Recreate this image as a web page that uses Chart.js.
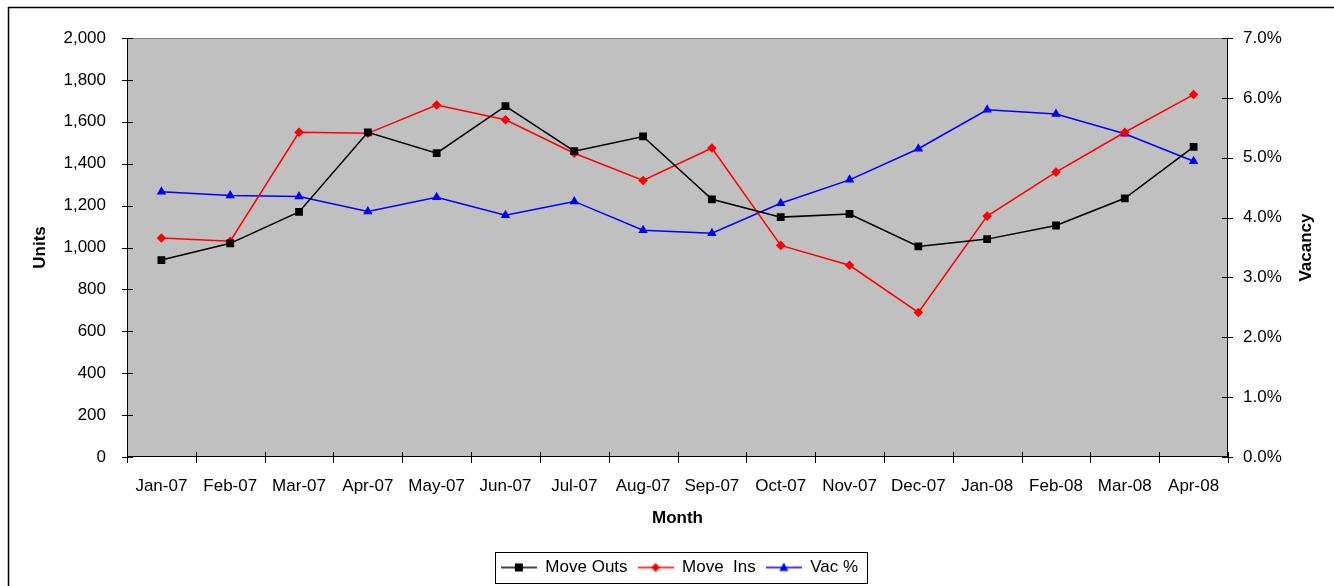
<!DOCTYPE html>
<html>
<head>
<meta charset="utf-8">
<script src="https://cdn.jsdelivr.net/npm/chart.js@4/dist/chart.umd.min.js"></script>
<style>
  html, body { margin: 0; padding: 0; background: #ffffff; }
  #wrap { width: 1334px; height: 586px; }
</style>
</head>
<body>
<div id="wrap"><canvas id="c" width="1334" height="586"></canvas></div>
<script>
// Monthly move-outs, move-ins (units) and vacancy rate (%)
const months = ['Jan-07','Feb-07','Mar-07','Apr-07','May-07','Jun-07','Jul-07','Aug-07',
                'Sep-07','Oct-07','Nov-07','Dec-07','Jan-08','Feb-08','Mar-08','Apr-08'];
const moveOuts = [940, 1020, 1170, 1550, 1450, 1675, 1460, 1530, 1230, 1145, 1160, 1005, 1040, 1105, 1235, 1480];
const moveIns  = [1045, 1030, 1550, 1545, 1680, 1610, 1450, 1320, 1475, 1010, 915, 690, 1150, 1360, 1550, 1730];
const vacancyPct = [4.43, 4.37, 4.35, 4.10, 4.34, 4.04, 4.27, 3.79, 3.74, 4.24, 4.63, 5.15, 5.80, 5.73, 5.40, 4.94];

const seriesNames = ['Move Outs', 'Move  Ins', 'Vac %'];
const axisTitles = { units: 'Units', vacancy: 'Vacancy', month: 'Month' };

const FONT = '"Liberation Sans", Arial, sans-serif';
const FS = 17;
Chart.defaults.font.family = FONT;
Chart.defaults.font.size = FS;
Chart.defaults.color = '#000000';

// Small legend swatch: a line segment with the series marker in the middle
function swatch(color, shape) {
  const cv = document.createElement('canvas');
  cv.width = 36; cv.height = 12;
  const g = cv.getContext('2d');
  g.strokeStyle = color; g.lineWidth = 1.5;
  g.beginPath(); g.moveTo(0, 6); g.lineTo(36, 6); g.stroke();
  g.fillStyle = color;
  g.beginPath();
  if (shape === 'rect') { g.rect(14, 2, 8, 8); }
  else if (shape === 'rectRot') { g.moveTo(18, 1.5); g.lineTo(22.5, 6); g.lineTo(18, 10.5); g.lineTo(13.5, 6); g.closePath(); }
  else { g.moveTo(18, 1); g.lineTo(22.5, 9.5); g.lineTo(13.5, 9.5); g.closePath(); }
  g.fill();
  return cv;
}
const swatches = [swatch('#000000', 'rect'), swatch('#ff0000', 'rectRot'), swatch('#0000ff', 'triangle')];

// Plot background, frame, axis lines and crossing tick marks
const frame = {
  id: 'frame',
  beforeDraw(chart) {
    const { ctx, chartArea: a } = chart;
    ctx.save();
    ctx.fillStyle = '#ffffff';
    ctx.fillRect(0, 0, chart.width, chart.height);
    ctx.strokeStyle = '#000000';
    ctx.lineWidth = 1.5;
    ctx.beginPath();
    ctx.moveTo(8.5, chart.height + 5);
    ctx.lineTo(8.5, 7.5);
    ctx.lineTo(chart.width + 5, 7.5);
    ctx.stroke();
    ctx.fillStyle = '#c0c0c0';
    ctx.fillRect(a.left, a.top, a.right - a.left, a.bottom - a.top);
    ctx.strokeStyle = '#808080';
    ctx.lineWidth = 1;
    ctx.strokeRect(a.left + 0.5, a.top + 0.5, a.right - a.left - 1, a.bottom - a.top - 1);
    ctx.restore();
  },
  beforeDatasetsDraw(chart) {
    const { ctx, chartArea: a, scales } = chart;
    const yl = scales.y, yr = scales.y2, x = scales.x;
    ctx.save();
    ctx.strokeStyle = '#000000';
    ctx.lineWidth = 1;
    ctx.beginPath();
    // axis lines
    ctx.moveTo(a.left + 0.5, a.top); ctx.lineTo(a.left + 0.5, a.bottom + 0.5);
    ctx.moveTo(a.right - 0.5, a.top); ctx.lineTo(a.right - 0.5, a.bottom + 0.5);
    ctx.moveTo(a.left, a.bottom - 0.5); ctx.lineTo(a.right, a.bottom - 0.5);
    // left ticks
    yl.ticks.forEach((t, i) => {
      const py = Math.round(yl.getPixelForTick(i)) + 0.5;
      ctx.moveTo(a.left - 5, py); ctx.lineTo(a.left + 6, py);
    });
    // right ticks
    yr.ticks.forEach((t, i) => {
      const py = Math.round(yr.getPixelForTick(i)) + 0.5;
      ctx.moveTo(a.right - 6, py); ctx.lineTo(a.right + 5, py);
    });
    // category boundary ticks
    const n = x.ticks.length;
    const step = (x.right - x.left) / n;
    for (let i = 0; i <= n; i++) {
      const px = Math.round(x.left + i * step) + 0.5;
      ctx.moveTo(px, a.bottom - 5); ctx.lineTo(px, a.bottom + 6);
    }
    ctx.stroke();
    ctx.restore();
  },
  afterDraw(chart) {
    const { ctx, chartArea: a, scales } = chart;
    // right axis title, reading upward
    ctx.save();
    ctx.font = 'bold ' + FS + 'px ' + FONT;
    ctx.fillStyle = '#000000';
    ctx.textAlign = 'center';
    ctx.textBaseline = 'middle';
    ctx.translate(scales.y2.right - 28, (a.top + a.bottom) / 2);
    ctx.rotate(-Math.PI / 2);
    ctx.fillText(axisTitles.vacancy, 0, 0);
    ctx.restore();
    // legend box
    const hb = chart.legend.legendHitBoxes;
    if (hb && hb.length) {
      const left = hb[0].left - 6;
      const last = hb[hb.length - 1];
      const right = last.left + last.width + 9;
      const cy = hb[0].top + hb[0].height / 2;
      ctx.save();
      ctx.strokeStyle = '#000000';
      ctx.lineWidth = 1;
      ctx.strokeRect(Math.round(left) + 0.5, Math.round(cy - 15.5) + 0.5, Math.round(right - left), 31);
      ctx.restore();
    }
  }
};

new Chart(document.getElementById('c'), {
  type: 'line',
  data: {
    labels: months,
    datasets: [
      { label: seriesNames[0], data: moveOuts, yAxisID: 'y', borderColor: '#000000', backgroundColor: '#000000',
        borderWidth: 1.5, pointStyle: 'rect', pointRadius: 5.5, pointHoverRadius: 5.5, pointBorderWidth: 0, tension: 0 },
      { label: seriesNames[1], data: moveIns, yAxisID: 'y', borderColor: '#ff0000', backgroundColor: '#ff0000',
        borderWidth: 1.5, pointStyle: 'rectRot', pointRadius: 4.8, pointHoverRadius: 4.8, pointBorderWidth: 0, tension: 0 },
      { label: seriesNames[2], data: vacancyPct, yAxisID: 'y2', borderColor: '#0000ff', backgroundColor: '#0000ff',
        borderWidth: 1.5, pointStyle: 'triangle', pointRadius: 5.5, pointHoverRadius: 5.5, pointBorderWidth: 0, tension: 0 }
    ]
  },
  options: {
    responsive: false,
    animation: false,
    devicePixelRatio: 1,
    layout: { padding: { left: 25, right: 0, top: 38, bottom: 0 } },
    plugins: {
      tooltip: { enabled: false },
      legend: {
        position: 'bottom',
        labels: {
          usePointStyle: true,
          pointStyleWidth: 36,
          padding: 10,
          font: { size: FS },
          color: '#000000',
          generateLabels(chart) {
            const items = Chart.defaults.plugins.legend.labels.generateLabels(chart);
            items.forEach((it, i) => { it.pointStyle = swatches[i]; });
            return items;
          }
        }
      }
    },
    scales: {
      x: {
        type: 'category',
        offset: true,
        grid: { display: false, offset: true, drawTicks: false },
        border: { display: false },
        ticks: { padding: 19, maxRotation: 0, autoSkip: false, font: { size: FS } },
        title: { display: true, text: axisTitles.month, font: { size: FS, weight: 'bold' }, padding: { top: 4, bottom: 20 } },
        afterFit(s) { s.height = 92; }
      },
      y: {
        position: 'left',
        min: 0, max: 2000,
        grid: { display: false, drawTicks: false },
        border: { display: false },
        ticks: { stepSize: 200, padding: 21, font: { size: FS },
                 callback: v => Number(v).toLocaleString('en-US') },
        title: { display: true, text: axisTitles.units, font: { size: FS, weight: 'bold' }, padding: { top: 5, bottom: 0 } },
        afterFit(s) { s.width = 102; }
      },
      y2: {
        position: 'right',
        min: 0, max: 7,
        grid: { display: false, drawTicks: false },
        border: { display: false },
        ticks: { stepSize: 1, padding: 15, font: { size: FS },
                 callback: v => Number(v).toFixed(1) + '%' },
        title: { display: false },
        afterFit(s) { s.width = 106; }
      }
    }
  },
  plugins: [frame]
});
</script>
</body>
</html>
